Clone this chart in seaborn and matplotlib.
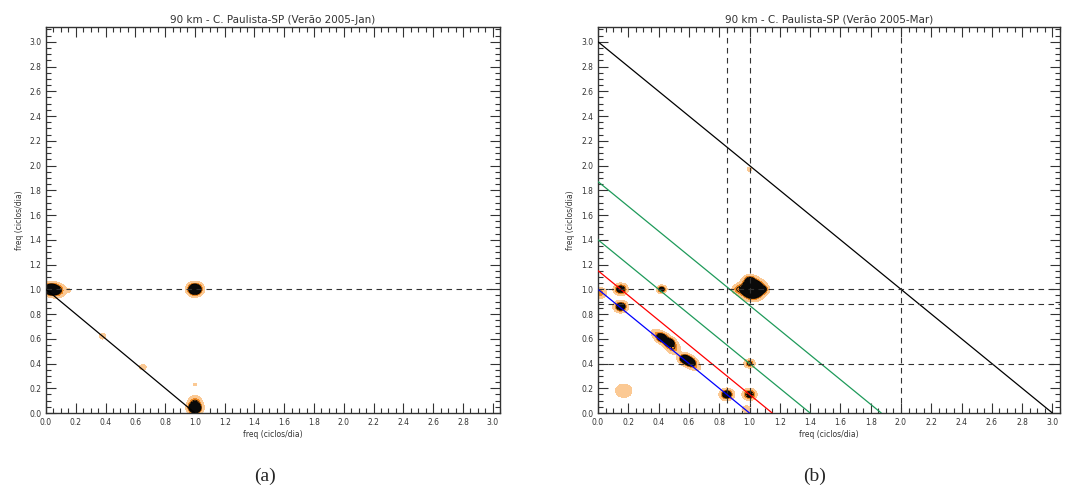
import numpy as np
import matplotlib
matplotlib.use("Agg")
import matplotlib.pyplot as plt
from matplotlib.ticker import MultipleLocator
import seaborn as sns

sns.set_style("ticks")
plt.rcParams["font.family"] = ["DejaVu Sans"]

# Axis labels and titles
titles = ["90 km - C. Paulista-SP (Verão 2005-Jan)",
          "90 km - C. Paulista-SP (Verão 2005-Mar)"]
axis_label = "freq (ciclos/dia)"
panel_tags = ["(a)", "(b)"]

# Bispectral peaks (f1, f2, amplitude, width) for each season
peaks_a_f1 = [0.03, 0.08, 1.00, 1.00, 1.00, 0.38, 0.65, 1.00, 0.15]
peaks_a_f2 = [1.00, 0.99, 1.00, 0.04, 0.10, 0.62, 0.37, 0.23, 0.99]
peaks_a_amp = [1.0, 0.45, 1.0, 1.0, 0.30, 0.22, 0.22, 0.18, 0.18]
peaks_a_wid = [0.030, 0.035, 0.032, 0.030, 0.030, 0.020, 0.020, 0.012, 0.012]

peaks_b_f1 = [1.02, 1.00, 1.10, 0.92, 0.15, 0.01, 0.15, 0.42, 0.42, 0.47,
              0.57, 0.61, 0.85, 1.00, 1.00, 0.98, 0.17, 1.00, 0.50, 0.38, 0.65]
peaks_b_f2 = [1.00, 1.08, 1.00, 1.00, 1.00, 0.97, 0.86, 1.00, 0.61, 0.57,
              0.44, 0.41, 0.15, 0.15, 0.40, 0.03, 0.18, 1.97, 0.52, 0.65, 0.37]
peaks_b_amp = [1.6, 0.35, 0.25, 0.30, 0.65, 0.40, 0.70, 0.60, 0.70, 0.70,
               0.70, 0.70, 0.70, 0.60, 0.50, 0.30, 0.30, 0.22, 0.35, 0.22, 0.22]
peaks_b_wid = [0.045, 0.025, 0.020, 0.025, 0.028, 0.030, 0.028, 0.020, 0.026, 0.026,
               0.026, 0.026, 0.028, 0.028, 0.022, 0.020, 0.040, 0.015, 0.030, 0.025, 0.025]

# Reference lines: f1 + f2 = const, and fixed frequencies
diag_a = [1.0]
diag_a_colors = ["black"]
hlines_a = [1.0]
vlines_a = []

diag_b = [1.0, 1.15, 1.40, 1.87, 3.0]
diag_b_colors = ["#0000ff", "#ff0000", "#1e9a5a", "#1e9a5a", "black"]
hlines_b = [1.0, 0.88, 0.40]
vlines_b = [0.85, 1.0, 2.0]

XMAX, YMAX = 3.05, 3.12
fill_levels = [0.12, 0.3, 0.5, 100]
fill_colors = ["#fbc994", "#f08a24", "#0a0a0a"]


def field(f1, f2, amp, wid):
    gx = np.linspace(0, XMAX, 700)
    gy = np.linspace(0, YMAX, 700)
    X, Y = np.meshgrid(gx, gy)
    Z = np.zeros_like(X)
    for x0, y0, a, s in zip(f1, f2, amp, wid):
        Z += a * np.exp(-((X - x0) ** 2 + (Y - y0) ** 2) / (2 * s ** 2))
    return X, Y, Z


def style_axes(ax, title):
    ax.set_xlim(0, XMAX)
    ax.set_ylim(0, YMAX)
    ax.xaxis.set_major_locator(MultipleLocator(0.2))
    ax.yaxis.set_major_locator(MultipleLocator(0.2))
    ax.xaxis.set_minor_locator(MultipleLocator(0.05))
    ax.yaxis.set_minor_locator(MultipleLocator(0.05))
    ax.xaxis.set_major_formatter(plt.FuncFormatter(lambda v, p: f"{v:.1f}"))
    ax.yaxis.set_major_formatter(plt.FuncFormatter(lambda v, p: f"{v:.1f}"))
    ax.tick_params(which="both", direction="in", top=True, right=True,
                   labelsize=5.5, colors="#333333", width=0.8)
    ax.tick_params(which="major", length=7)
    ax.tick_params(which="minor", length=3.5)
    for s in ax.spines.values():
        s.set_visible(True)
        s.set_linewidth(1.0)
        s.set_color("#333333")
    ax.set_title(title, fontsize=7.5, color="#333333", pad=3)
    ax.set_xlabel(axis_label, fontsize=5.5, color="#333333", labelpad=2)
    ax.set_ylabel(axis_label, fontsize=5.5, color="#333333", labelpad=4)


def draw_panel(ax, f1, f2, amp, wid, diag, dcolors, hl, vl, title):
    X, Y, Z = field(f1, f2, amp, wid)
    ax.contourf(X, Y, Z, levels=fill_levels, colors=fill_colors, zorder=1)
    ax.contour(X, Y, Z, levels=[0.4], colors="black", linewidths=0.6, zorder=2)
    for c, col in zip(diag, dcolors):
        sns.lineplot(x=[0, c], y=[c, 0], ax=ax, color=col, linewidth=0.9, zorder=3)
    for h in hl:
        ax.axhline(h, color="#333333", linestyle=(0, (5, 4)), linewidth=0.8, zorder=3)
    for v in vl:
        ax.axvline(v, color="#333333", linestyle=(0, (5, 4)), linewidth=0.8, zorder=3)
    style_axes(ax, title)


fig = plt.figure(figsize=(10.66, 4.99), dpi=100)
ax_a = fig.add_axes([0.0432, 0.1723, 0.426, 0.7737])
ax_b = fig.add_axes([0.561, 0.1723, 0.4334, 0.7737])

draw_panel(ax_a, peaks_a_f1, peaks_a_f2, peaks_a_amp, peaks_a_wid,
           diag_a, diag_a_colors, hlines_a, vlines_a, titles[0])
draw_panel(ax_b, peaks_b_f1, peaks_b_f2, peaks_b_amp, peaks_b_wid,
           diag_b, diag_b_colors, hlines_b, vlines_b, titles[1])

fig.text(0.249, 0.045, panel_tags[0], fontsize=14, family="Liberation Serif",
         ha="center", va="center")
fig.text(0.764, 0.045, panel_tags[1], fontsize=14, family="Liberation Serif",
         ha="center", va="center")

fig.savefig("out.png", dpi=100)
